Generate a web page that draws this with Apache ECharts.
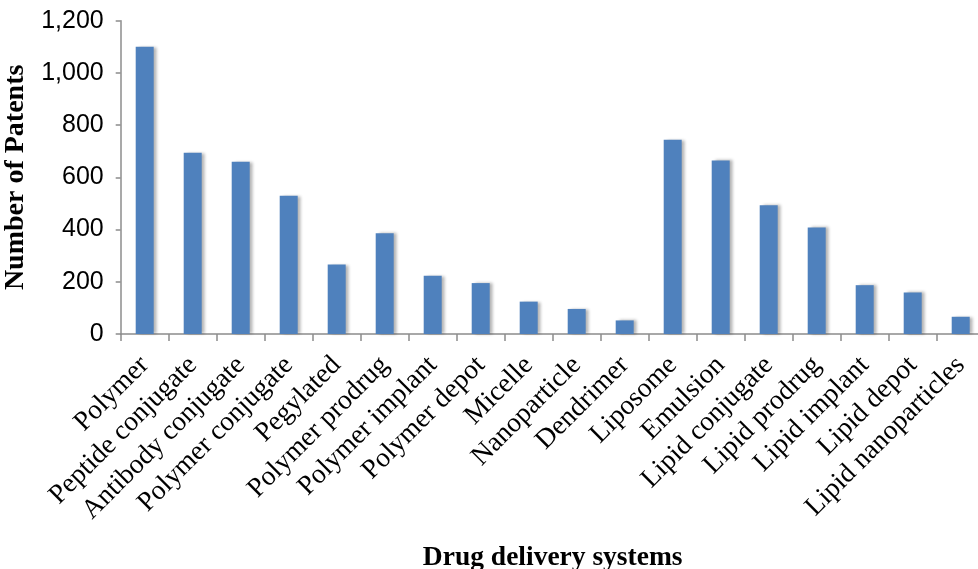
<!DOCTYPE html>
<html>
<head>
<meta charset="utf-8">
<script src="https://cdn.jsdelivr.net/npm/echarts@6/dist/echarts.min.js"></script>
<style>
  html, body { margin: 0; padding: 0; background: #fff; }
  #chart { width: 978px; height: 569px; }
</style>
</head>
<body>
<div id="chart"></div>
<script>
// Patent counts by drug delivery system
const systems = [
  'Polymer', 'Peptide conjugate', 'Antibody conjugate', 'Polymer conjugate',
  'Pegylated', 'Polymer prodrug', 'Polymer implant', 'Polymer depot',
  'Micelle', 'Nanoparticle', 'Dendrimer', 'Liposome', 'Emulsion',
  'Lipid conjugate', 'Lipid prodrug', 'Lipid implant', 'Lipid depot',
  'Lipid nanoparticles'
];
const patents = [
  1100, 694, 660, 530, 266, 386, 223, 195, 124, 96, 52,
  744, 665, 493, 408, 187, 159, 66
];
const yTicks = [0, 200, 400, 600, 800, 1000, 1200];

const serif = '"Liberation Serif", "Times New Roman", serif';
const sans = '"Liberation Sans", Arial, Helvetica, sans-serif';
const axisGrey = '#8c8c8c';

const chart = echarts.init(document.getElementById('chart'), null, { renderer: 'canvas' });
chart.setOption({
  animation: false,
  backgroundColor: '#ffffff',
  grid: {
    left: 120.7, top: 20.7, bottom: 235, right: -6.7,
    containLabel: false,
    outerBoundsMode: 'none'
  },
  xAxis: {
    type: 'category',
    data: systems,
    boundaryGap: true,
    axisLine: { lineStyle: { color: axisGrey, width: 1.5 } },
    axisTick: { show: true, length: 7, alignWithLabel: false, lineStyle: { color: axisGrey, width: 1.5 } },
    axisLabel: {
      interval: 0,
      rotate: 45,
      margin: 27,
      padding: [11, 0, 0, 0],
      fontFamily: serif,
      fontSize: 27.5,
      color: '#000',
      hideOverlap: false
    },
    name: 'Drug delivery systems',
    nameLocation: 'middle',
    nameGap: 210,
    nameTextStyle: { fontFamily: serif, fontSize: 27.5, fontWeight: 'bold', color: '#000' }
  },
  yAxis: {
    type: 'value',
    min: yTicks[0],
    max: yTicks[yTicks.length - 1],
    interval: 200,
    splitLine: { show: false },
    axisLine: { show: true, lineStyle: { color: axisGrey, width: 1.5 } },
    axisTick: { show: true, length: 5, lineStyle: { color: axisGrey, width: 1.5 } },
    axisLabel: {
      margin: 17,
      fontFamily: sans,
      fontSize: 25,
      color: '#000',
      formatter: v => v.toLocaleString('en-US')
    },
    name: 'Number of Patents',
    nameLocation: 'middle',
    nameGap: 80,
    nameTextStyle: { fontFamily: serif, fontSize: 28, fontWeight: 'bold', color: '#000' }
  },
  series: [{
    type: 'bar',
    data: patents,
    barWidth: 18,
    itemStyle: {
      color: '#4f81bd',
      shadowColor: 'rgba(0,0,0,0.3)',
      shadowOffsetX: 3,
      shadowOffsetY: 0,
      shadowBlur: 3
    }
  }]
});
</script>
</body>
</html>
